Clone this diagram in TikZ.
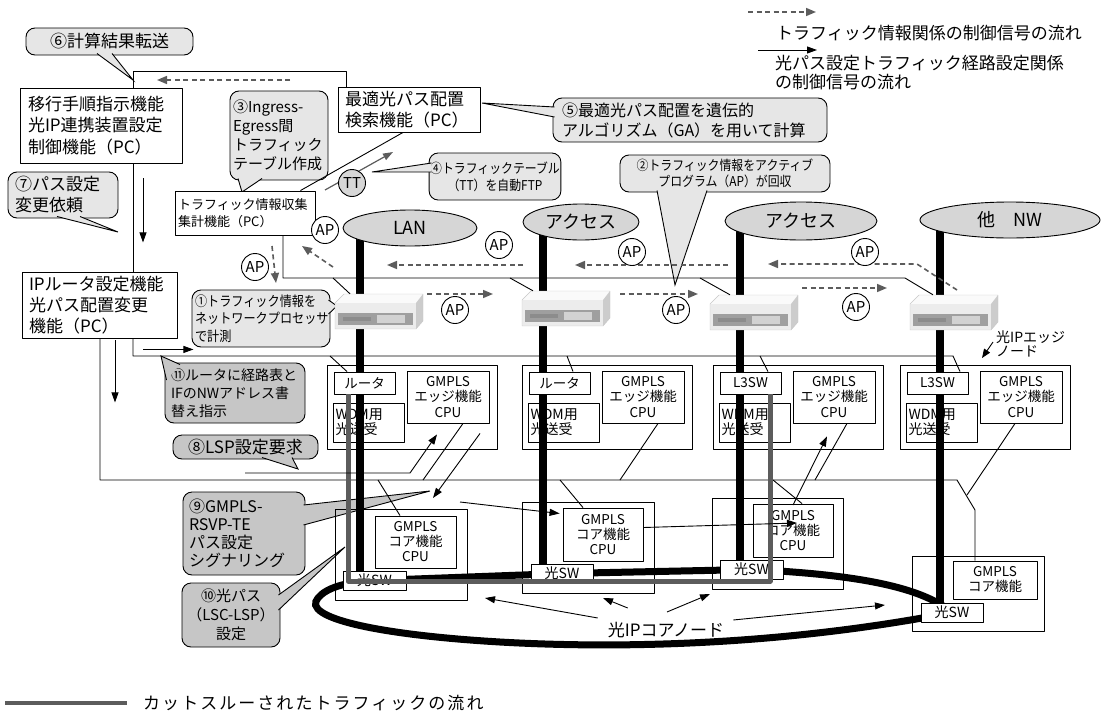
\documentclass[tikz,border=0pt]{standalone}
\usepackage{fontspec}
\setmainfont{Noto Sans CJK JP}
\newfontfamily\narrowfont[FakeStretch=0.88]{Noto Sans CJK JP}
\newfontfamily\widefont[LetterSpace=12]{Noto Sans CJK JP}
\usetikzlibrary{arrows.meta,calc,positioning,shapes.geometric}

\pgfdeclarelayer{back}
\pgfsetlayers{back,main}

\definecolor{balloonfill}{HTML}{E6E6E6}
\definecolor{balloondark}{HTML}{C6C6C6}
\definecolor{cloudfill}{HTML}{D6D6D6}
\definecolor{flowgray}{HTML}{5C5C5C}

\newcommand{\fsz}[2]{\fontsize{#1}{#2}\selectfont}

\tikzset{
    box/.style={draw, fill=white, line width=0.9pt, inner sep=4pt},
    nodeframe/.style={draw, line width=0.9pt, inner sep=0pt},
    cpubox/.style={box, inner sep=0pt, align=center, font=\fsz{13.5}{15}},
    swbox/.style={box, inner sep=0pt, minimum height=19pt, font=\fsz{14}{14}},
    balloon/.style={draw, fill=balloonfill, line width=0.9pt, rounded corners=9pt, inner sep=3pt},
    darkballoon/.style={balloon, fill=balloondark},
    nwcloud/.style={ellipse, draw, fill=cloudfill, line width=0.9pt, inner sep=0pt, font=\fsz{18}{18}},
    apnode/.style={circle, draw, fill=white, line width=0.9pt, inner sep=0pt, minimum size=27pt, font=\fsz{15}{15}},
    busline/.style={line width=0.9pt},
    ipbar/.style={line width=8pt},
    swring/.style={line width=7pt},
    cutflow/.style={line width=5pt, draw=flowgray},
    infoflow/.style={draw=flowgray, line width=1.6pt, dash pattern=on 5pt off 3.5pt, -{Triangle[length=10pt, width=8pt]}},
    ctrlflow/.style={line width=0.9pt, -{Triangle[length=10pt, width=7pt]}},
    router/.pic={
        \fill[gray!4] (0,9) -- (9,0) -- (88,0) -- (81,9) -- cycle;
        \fill[gray!15] (0,9) rectangle (81,35);
        \fill[gray!40] (81,9) -- (88,0) -- (88,27) -- (81,35) -- cycle;
        \fill[gray!75] (3,19) rectangle (78,31);
        \fill[gray!35] (42,21) rectangle (70,29);
        \fill[gray!90] (8,23) rectangle (36,27);
        \draw[gray!45, line width=0.4pt] (0,9) -- (9,0) -- (88,0) -- (88,27) -- (81,35) -- (0,35) -- cycle;
        \node[inner sep=0pt, minimum width=88pt, minimum height=35pt] (-box) at (44,17.5) {};
    }
}

\newcommand{\balloontail}[4]{%
    \fill[#1] #2 -- #4 -- #3 -- cycle;
    \draw[busline] #2 -- #4 -- #3;}

\begin{document}
\begin{tikzpicture}[x=1pt, y=-1pt, line join=round]
            \useasboundingbox (0,0) rectangle (1102,712);

            \node[box, minimum width=162pt, minimum height=75pt, text width=146pt, align=left, font=\fsz{17}{21.5}] (plan) at (101,125.5) {移行手順指示機能\\光IP連携装置設定\\制御機能（PC）};
            \node[box, minimum width=142pt, minimum height=45pt, text width=128pt, align=left, font=\fsz{17}{21}] (opt) at (409,109.5) {最適光パス配置\\検索機能（PC）};
            \node[box, minimum width=140pt, minimum height=44pt, text width=134pt, inner sep=3pt, align=left, font=\fsz{13}{17}] (coll) at (245,213) {トラフィック情報収集\\集計機能（PC）};
            \node[box, minimum width=155pt, minimum height=66pt, text width=141pt, align=left, font=\fsz{17}{21}] (iprt) at (99.5,305) {IPルータ設定機能\\光パス配置変更\\機能（PC）};

            \node[nwcloud, minimum width=134pt, minimum height=36pt] (lan) at (410,228) {LAN};
            \node[nwcloud, minimum width=116pt, minimum height=36pt] (acc1) at (581,222) {アクセス};
            \node[nwcloud, minimum width=152pt, minimum height=38pt] (acc2) at (801,221) {アクセス};
            \node[nwcloud, minimum width=180pt, minimum height=36pt] (oth) at (1010,220) {他　NW};

            \pic (r1) at (335,294) {router};
            \pic (r2) at (522,291) {router};
            \pic (r3) at (710,295) {router};
            \pic (r4) at (910,295) {router};

            \foreach \x/\sw/\n in {327/ルータ/1, 522/ルータ/2, 713/L3SW/3, 900/L3SW/4} {
                \node[nodeframe, minimum width=170pt, minimum height=84pt] (edge\n) at ({\x+85},407) {};
                \node[box, inner sep=0pt, minimum width=61pt, minimum height=22pt, font=\fsz{13.5}{14}] (rt\n) at ({\x+37.5},383) {\sw};
                \node[nodeframe, minimum width=71pt, minimum height=39pt, text width=66pt, align=left, font=\fsz{14}{15}] (wdm\n) at ({\x+41.5},422.5) {WDM用\\光送受};
                \node[cpubox, minimum width=82pt, minimum height=52pt, font=\fsz{13.5}{15.5}] (ecpu\n) at ({\x+121},397) {GMPLS\\エッジ機能\\CPU};
            }

            \node[nodeframe, minimum width=132pt, minimum height=91pt] (core1) at (401,554.5) {};
            \node[cpubox, minimum width=81pt, minimum height=52pt] (ccpu1) at (415.5,542) {GMPLS\\コア機能\\CPU};
            \node[swbox, minimum width=63pt] (sw1) at (374.5,580.5) {光SW};
            \node[nodeframe, minimum width=132pt, minimum height=91pt] (core2) at (588,547.5) {};
            \node[cpubox, minimum width=80pt, minimum height=53pt] (ccpu2) at (603,534.5) {GMPLS\\コア機能\\CPU};
            \node[swbox, minimum width=62pt] (sw2) at (562,573.5) {光SW};
            \node[nodeframe, minimum width=131pt, minimum height=91pt] (core3) at (777.5,543.5) {};
            \node[cpubox, minimum width=80pt, minimum height=53pt] (ccpu3) at (793,530.5) {GMPLS\\コア機能\\CPU};
            \node[swbox, minimum width=63pt] (sw3) at (751.5,569.5) {光SW};
            \node[nodeframe, minimum width=132pt, minimum height=75pt] (core4) at (978,593.5) {};
            \node[cpubox, minimum width=84pt, minimum height=38pt] (ccpu4) at (995,580) {GMPLS\\コア機能};
            \node[swbox, minimum width=62pt] (sw4) at (952,612.5) {光SW};

            \node[font=\fsz{17}{17}, inner sep=0pt] (corelbl) at (666,630) {光IPコアノード};
            \node[font=\fsz{14}{13.5}, align=left, anchor=west, inner sep=0pt] (edgelbl) at (996,344) {光IPエッジ\\ノード};

            \draw[busline] ($(plan.north)+(32,0)$) -- ++(0,-16) -| ($(opt.north west)+(9,0)$);
            \draw[busline] ($(plan.south)+(32,0)$) -- ($(iprt.north)+(33.5,0)$);
            \draw[busline] ($(opt.south)+(-6,0)$) -- ($(coll.north east)+(-15,0)$);

            \draw[busline] ($(coll.south)+(38,0)$) |- (905,278) -- ($(r4-box.north)+(-21,0)$);
            \draw[busline] (333,278) -- ($(r1-box.north)+(-29,0)$);
            \draw[busline] (510,278) -- ($(r2-box.north)+(-33,0)$);
            \draw[busline] (700,278) -- ($(r3-box.north)+(-24,0)$);

            \draw[busline] ($(iprt.south)+(33.5,0)$) |- (953,356) -- ($(rt4.north)+(22.5,0)$);
            \draw[busline] (330,356) -- ($(rt1.north)+(-17.5,0)$);
            \draw[busline] (567,356) -- ($(rt2.north)+(13.5,0)$);
            \draw[busline] (760,356) -- ($(rt3.north)+(17.5,0)$);

            \draw[busline] ($(iprt.south)+(0.5,0)$) |- (957,480) -- (975,510) -- ($(ccpu4.north)+(-20,0)$);
            \draw[busline] (378,480) -- ($(ccpu1.north)+(-15.5,0)$);
            \draw[busline] (560,480) -- ($(ccpu2.north)+(-20,0)$);
            \draw[busline] (773,480) -- ($(ccpu3.north)+(9,0)$);
            \draw[busline] ($(ecpu1.south)+(15,0)$) -- (423,480);
            \draw[busline] ($(ecpu2.south)+(15,0)$) -- (620,480);
            \draw[busline] ($(ecpu3.south)+(13,0)$) -- (815,480);
            \draw[busline] ($(ecpu4.south)+(-6,0)$) -- (967,495);

            \draw[cutflow] ($(rt1.south)+(-16.5,0)$) |- (770,581) -- ($(rt3.south)+(19.5,0)$);

            \draw[ctrlflow] ($(plan.south)+(42,15)$) -- ++(0,64);
            \draw[ctrlflow] ($(iprt.south)+(15.5,2)$) -- ++(0,62);
            \draw[ctrlflow] ($(iprt.south east)+(-34,11)$) -- ++(50,0);
            \draw[ctrlflow, draw=flowgray, fill=flowgray, line width=1.2pt] (325,190) -- (393,152);
            \draw[ctrlflow] (245,473) -- (410,473) -- ($(ecpu1.south)+(-11,11)$);
            \draw[ctrlflow] ($(ecpu1.south)+(32,10)$) -- (433,498);
            \draw[ctrlflow] (460,502) -- ($(ccpu2.west)+(-3,-21)$);
            \draw[ctrlflow] ($(ccpu2.east)+(0,-7)$) -- (797,523);
            \draw[ctrlflow] (793,505) -- ($(ecpu3.south)+(-7,13)$);
            \draw[ctrlflow] ($(corelbl.north west)+(-10,-4)$) -- (485,598);
            \draw[ctrlflow] ($(corelbl.north west)+(20,-14)$) -- (603,598);
            \draw[ctrlflow] ($(corelbl.north)+(1,-10)$) -- (710,594);
            \draw[ctrlflow] ($(corelbl.north east)+(9,-2)$) -- (885,605);
            \draw[busline, -{Triangle[length=9pt, width=7pt]}] ($(edgelbl.west)+(-3,-2)$) -- (982,358);

            \draw[infoflow] (290,80) -- (157,80);
            \draw[infoflow] (523,265) -- (387,265);
            \draw[infoflow] (728,265) -- (575,265);
            \draw[infoflow] (957,290) -- (917,264) -- (768,264);
            \draw[infoflow] (427,294) -- (493,294);
            \draw[infoflow] (620,294) -- (698,294);
            \draw[infoflow] (802,288) -- (887,288);
            \draw[infoflow] (272,246) -- (276,283);
            \draw[infoflow] (333,267) -- (302,246);

            \node[apnode] (ap1) at (325,230) {AP};
            \node[apnode] (ap2) at (255,267) {AP};
            \node[apnode] (ap3) at (499,245) {AP};
            \node[apnode] (ap4) at (455,310) {AP};
            \node[apnode] (ap5) at (632,252) {AP};
            \node[apnode] (ap6) at (676,310) {AP};
            \node[apnode] (ap7) at (865,252) {AP};
            \node[apnode] (ap8) at (856,307) {AP};
            \node[apnode, fill=cloudfill] (tt) at (352,183) {TT};

            \draw[infoflow] (748,12) -- (816,12);
            \node[anchor=west, inner sep=0pt, font=\fsz{17}{17}] (lginfo) at (776,33) {トラフィック情報関係の制御信号の流れ};
            \draw[ctrlflow] (758,50) -- (817,50);
            \node[anchor=west, inner sep=0pt, align=left, font=\fsz{17}{19}] (lgctrl) at (775,72.5) {光パス設定トラフィック経路設定関係\\の制御信号の流れ};
            \draw[cutflow, line width=3.5pt] (5,703) -- (127,703);
            \node[anchor=west, inner sep=0pt, font=\widefont\fsz{17}{17}] (lgcut) at (143,703) {カットスルーされたトラフィックの流れ};

            \begin{pgfonlayer}{back}
                \node[balloon, minimum width=167pt, minimum height=27pt, font=\fsz{17}{17}] (call6) at (109.5,41.5) {⑥計算結果転送};
                \balloontail{balloonfill}{(97,53.5)}{(112,53.5)}{(133,80)}
                \node[balloon, minimum width=110pt, minimum height=46pt, text width=96pt, align=left, font=\fsz{17}{21}] (call7) at (63,195) {⑦パス設定\\変更依頼};
                \balloontail{balloonfill}{(57,216.5)}{(80,216.5)}{(118,232)}
                \node[balloon, minimum width=98pt, minimum height=89pt, text width=92pt, align=left, font=\fsz{15}{19}] (call3) at (279,135.5) {③Ingress-\\Egress間\\トラフィック\\テーブル作成};
                \balloontail{balloonfill}{(238,178.5)}{(262,178.5)}{(242,192)}
                \node[balloon, minimum width=274pt, minimum height=44pt, text width=256pt, align=left, font=\fsz{16}{20}] (call5) at (690,120) {⑤最適光パス配置を遺伝的\\アルゴリズム（GA）を用いて計算};
                \balloontail{balloonfill}{(554.5,107)}{(554.5,117)}{(482,103)}
                \node[balloon, minimum width=130pt, minimum height=47pt, inner sep=1pt, align=center, font=\narrowfont\fsz{13.5}{17}] (call4) at (495,176.5) {④トラフィックテーブル\\（TT）を自動FTP};
                \balloontail{balloonfill}{(431.5,163)}{(431.5,172)}{(372,172)}
                \node[balloon, minimum width=210pt, minimum height=37pt, inner sep=1pt, align=center, font=\narrowfont\fsz{13.5}{16}] (call2) at (725,173.5) {②トラフィック情報をアクティブ\\プログラム（AP）が回収};
                \balloontail{balloonfill}{(657,190.5)}{(707,190.5)}{(675,285)}
                \node[balloon, minimum width=138pt, minimum height=57pt, inner sep=2pt, text width=132pt, align=left, font=\narrowfont\fsz{13.8}{17.5}] (call1) at (261,318.5) {①トラフィック情報を\\ネットワークプロセッサ\\で計測};
                \balloontail{balloonfill}{(328.5,300)}{(328.5,314)}{(337,306)}
                \node[darkballoon, minimum width=140pt, minimum height=60pt, text width=128pt, align=left, font=\fsz{14}{18}] (call11) at (235,393) {⑪ルータに経路表と\\IFのNWアドレス書\\替え指示};
                \balloontail{balloondark}{(166.5,380)}{(180,364.5)}{(161,356)}
                \node[darkballoon, minimum width=145pt, minimum height=24pt, font=\fsz{17}{17}] (call8) at (245.5,447) {⑧LSP設定要求};
                \balloontail{balloondark}{(262,457.5)}{(292,457.5)}{(298,469)}
                \node[darkballoon, minimum width=122pt, minimum height=83pt, text width=110pt, align=left, font=\fsz{16}{18}] (call9) at (244,533.5) {⑨GMPLS-\\RSVP-TE\\パス設定\\シグナリング};
                \balloontail{balloondark}{(303.5,505)}{(303.5,525)}{(430,491)}
                \node[darkballoon, minimum width=98pt, minimum height=64pt, inner sep=1pt, align=center, font=\fsz{15}{19}] (call10) at (231,615) {⑩光パス\\（LSC-LSP）\\設定};
                \balloontail{balloondark}{(278.5,595)}{(278.5,610)}{(345,547)}

                \draw[ipbar] ($(lan.center)+(-50,0)$) -- ($(sw1.north)+(-14.5,0)$);
                \draw[ipbar] ($(acc1.center)+(-38,0)$) -- ($(sw2.north)+(-19,0)$);
                \draw[ipbar] ($(acc2.center)+(-61,0)$) -- ($(sw3.north)+(-11.5,0)$);
                \draw[ipbar] ($(oth.center)+(-70,0)$) -- ($(sw4.north)+(-12,0)$);

                \draw[swring] (sw1.center) -- (sw2.center) -- (sw3.center) .. controls (870,575) and (925,590) .. (sw4.center) .. controls (800,642) and (640,650) .. (500,642) .. controls (380,635) and (300,618) .. (318,598) .. controls (326,588) and (345,582) .. (sw1.center);
            \end{pgfonlayer}
        \end{tikzpicture}
\end{document}
